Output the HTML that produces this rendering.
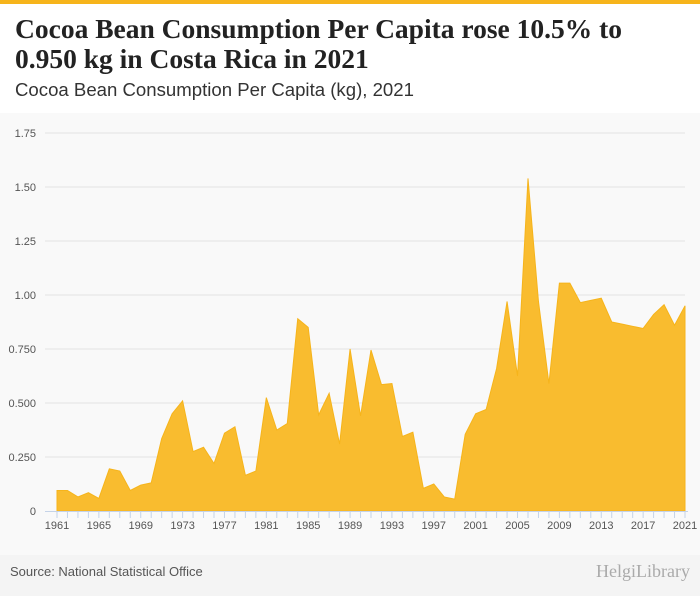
<!DOCTYPE html>
<html><head><meta charset="utf-8"><style>
body{margin:0;width:700px;height:596px;overflow:hidden;background:#fff;font-family:"Liberation Sans",sans-serif}
#top{position:absolute;left:0;top:0;width:700px;height:4px;background:#f6b41b}
#title{position:absolute;left:15px;top:14px;font-family:"Liberation Serif",serif;font-weight:bold;font-size:27.5px;line-height:30px;color:#222;white-space:nowrap}
#sub{position:absolute;left:15px;top:79px;font-size:18.6px;color:#333}
#chart{position:absolute;left:0;top:113px;width:700px;height:442px;background:#f9f9f9}
#foot{position:absolute;left:0;top:555px;width:700px;height:41px;background:#f4f4f4}
#src{position:absolute;left:10px;top:564px;font-size:13px;color:#555}
#logo{position:absolute;right:10px;top:561px;font-size:18px;color:#aaa;font-family:"Liberation Serif",serif}
</style></head><body>
<div id="top"></div>
<div id="title">Cocoa Bean Consumption Per Capita rose 10.5% to<br>0.950 kg in Costa Rica in 2021</div>
<div id="sub">Cocoa Bean Consumption Per Capita (kg), 2021</div>
<div id="chart"></div>
<svg id="svg" width="700" height="596" style="position:absolute;left:0;top:0"></svg>
<div id="foot"></div>
<div id="src">Source: National Statistical Office</div>
<div id="logo">HelgiLibrary</div>
<script>
const years=[];for(let y=1961;y<=2021;y++)years.push(y);
const values=[0.095,0.095,0.065,0.085,0.058,0.195,0.185,0.095,0.12,0.13,0.335,0.45,0.51,0.275,0.295,0.22,0.36,0.39,0.165,0.185,0.525,0.375,0.405,0.89,0.85,0.445,0.545,0.31,0.75,0.44,0.745,0.585,0.59,0.345,0.365,0.105,0.125,0.065,0.055,0.355,0.45,0.47,0.66,0.97,0.625,1.54,0.97,0.59,1.055,1.055,0.965,0.975,0.985,0.875,0.865,0.855,0.845,0.91,0.955,0.86,0.95];
const yTicks=[0,0.25,0.5,0.75,1,1.25,1.5,1.75];
const yTickLabels=["0","0.250","0.500","0.750","1.00","1.25","1.50","1.75"];
const xLabelYears=[1961,1965,1969,1973,1977,1981,1985,1989,1993,1997,2001,2005,2009,2013,2017,2021];
const X=y=>57+(y-1961)*(685-57)/60;
const Y=v=>511-v*216;
const svg=document.getElementById('svg');const NS='http://www.w3.org/2000/svg';
function mk(t,a){const e=document.createElementNS(NS,t);for(const k in a)e.setAttribute(k,a[k]);svg.appendChild(e);return e;}
yTicks.forEach((v,i)=>{
 if(v>0){const g=mk('line',{x1:45,x2:685,y1:Y(v),y2:Y(v),stroke:'#e2e2e2'});
 
 }
 const t=mk('text',{x:36,y:Y(v)+4,'text-anchor':'end','font-size':11,fill:'#555','font-family':'Liberation Sans'});
 t.textContent=yTickLabels[i];
 
 
});
let d='M'+X(years[0])+','+Y(0);
years.forEach((y,i)=>{d+=' L'+X(y)+','+Y(values[i]);});
d+=' L'+X(years[years.length-1])+','+Y(0)+' Z';
const p=mk('path',{d:d,fill:'#f9bc2f',stroke:'#f6b41b','stroke-width':1});


const ax=mk('line',{x1:45,x2:688,y1:511.5,y2:511.5,stroke:'#c5d3e8'});


years.forEach(y=>{const tk=mk('line',{x1:X(y),x2:X(y),y1:511,y2:518,stroke:'#c5d3e8'});
 
 });
xLabelYears.forEach(y=>{const t=mk('text',{x:X(y),y:529,'text-anchor':'middle','font-size':11,fill:'#555','font-family':'Liberation Sans'});
 t.textContent=y;
 
 });
</script>
</body></html>
